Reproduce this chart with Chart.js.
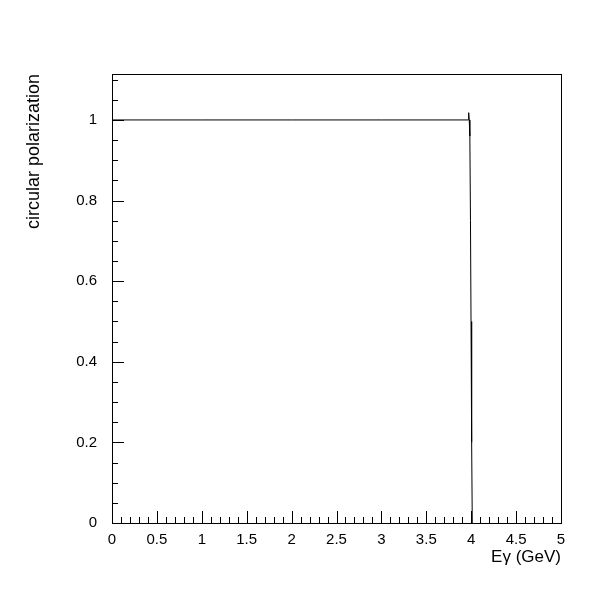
<!DOCTYPE html>
<html>
<head>
<meta charset="utf-8">
<script src="https://cdn.jsdelivr.net/npm/chart.js@4.4.1/dist/chart.umd.min.js"></script>
<style>
    html, body { margin: 0; padding: 0; background: #fff; }
    #wrap { width: 600px; height: 600px; position: relative; }
</style>
</head>
<body>
<div id="wrap"><canvas id="polChart" width="600" height="600"></canvas></div>
<script>
// photon energy (GeV) and circular polarization
const energy = [0, 1, 2, 3, 3.97, 3.972, 3.978, 3.985, 3.992, 3.998, 4.005, 4.012];
const polarization = [1, 1, 1, 1, 1, 1.018, 1.0, 0.96, 0.75, 0.5, 0.2, 0];

const xTicks = [0, 0.5, 1, 1.5, 2, 2.5, 3, 3.5, 4, 4.5, 5];
const yTicks = [0, 0.2, 0.4, 0.6, 0.8, 1];

const FONT = '"Liberation Sans", Arial, sans-serif';

// frame + inward ticks like the original (minor every 0.1 on x, 0.05 on y)
const frameTicks = {
    id: 'frameTicks',
    afterDraw(chart) {
        const { ctx, chartArea: a, scales: { x, y } } = chart;
        ctx.save();
        ctx.strokeStyle = '#000';
        ctx.lineWidth = 1;
        ctx.strokeRect(Math.round(a.left) + 0.5, Math.round(a.top) + 0.5,
            Math.round(a.right - a.left), Math.round(a.bottom - a.top));
        ctx.beginPath();
        for (let i = 0; i <= 50; i++) {
            const px = Math.round(x.getPixelForValue(i / 10)) + 0.5;
            const len = i % 5 === 0 ? 12 : 6;
            ctx.moveTo(px, a.bottom);
            ctx.lineTo(px, a.bottom - len);
        }
        for (let j = 0; j <= 22; j++) {
            const v = j * 0.05;
            if (v > y.max) break;
            const py = Math.round(y.getPixelForValue(v)) + 0.5;
            const len = j % 4 === 0 ? 12 : 6;
            ctx.moveTo(a.left, py);
            ctx.lineTo(a.left + len, py);
        }
        ctx.stroke();
        ctx.restore();
    }
};

new Chart(document.getElementById('polChart'), {
    type: 'line',
    data: {
        datasets: [{
            data: energy.map((e, i) => ({ x: e, y: polarization[i] })),
            borderColor: '#000',
            borderWidth: 1,
            pointRadius: 0,
            tension: 0,
            fill: false
        }]
    },
    options: {
        responsive: false,
        animation: false,
        layout: { padding: { left: 23, top: 74, right: 39, bottom: 32 } },
        plugins: { legend: { display: false }, tooltip: { enabled: false } },
        scales: {
            x: {
                type: 'linear',
                min: 0,
                max: 5,
                afterBuildTicks: s => { s.ticks = xTicks.map(v => ({ value: v })); },
                afterFit: s => { s.height = 45; },
                grid: { display: false, drawTicks: false },
                border: { display: false },
                ticks: { color: '#000', padding: 8, maxRotation: 0, autoSkip: false,
                    font: { family: FONT, size: 15 }, callback: v => String(v) },
                title: { display: true, text: 'Eγ (GeV)', align: 'end', color: '#000',
                    padding: { top: 0, bottom: 0 }, font: { family: FONT, size: 17 } }
            },
            y: {
                min: 0,
                max: 1.114,
                afterBuildTicks: s => { s.ticks = yTicks.map(v => ({ value: v })); },
                afterFit: s => { s.width = 89; },
                grid: { display: false, drawTicks: false },
                border: { display: false },
                ticks: { color: '#000', padding: 15, autoSkip: false,
                    font: { family: FONT, size: 15 }, callback: v => String(v) },
                title: { display: true, text: 'circular polarization', align: 'end', color: '#000',
                    padding: { top: 0, bottom: 0 }, font: { family: FONT, size: 18 } }
            }
        }
    },
    plugins: [frameTicks]
});
</script>
</body>
</html>
